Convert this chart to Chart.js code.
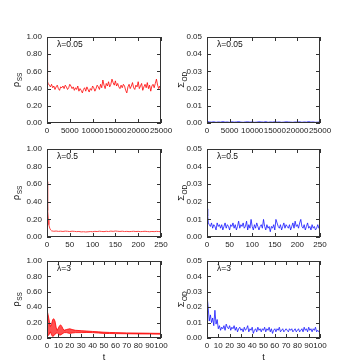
<!DOCTYPE html>
<html><head><meta charset="utf-8">
<script src="https://cdn.jsdelivr.net/npm/chart.js@4.4.1/dist/chart.umd.min.js"></script>
<style>
html,body{margin:0;padding:0;background:#fff;}
#wrap{position:relative;width:340px;height:364px;overflow:hidden;background:#fff;}
#wrap canvas{position:absolute;left:0;top:0;}
</style></head><body><div id="wrap">
<canvas id="c1" width="340" height="364"></canvas>
<canvas id="c2" width="340" height="364"></canvas>
<canvas id="c3" width="340" height="364"></canvas>
<canvas id="c4" width="340" height="364"></canvas>
<canvas id="c5" width="340" height="364"></canvas>
<canvas id="c6" width="340" height="364"></canvas>
</div>
<script>
// ---------- DATA ----------
// Panel 1: lambda=0.05, rho_SS
const t1Early = [0, 50, 100, 200];
const rho1Early = [0.85, 0.62, 0.52, 0.48];
const t1Step = 250; // samples from 250 to 25000
const rho1 = [
0.46,0.44,0.42,0.45,0.41,0.43,0.39,0.42,0.44,0.40,
0.38,0.42,0.41,0.43,0.40,0.44,0.42,0.39,0.41,0.45,
0.43,0.40,0.42,0.38,0.41,0.39,0.43,0.37,0.40,0.38,
0.35,0.39,0.41,0.37,0.42,0.39,0.36,0.40,0.38,0.43,
0.41,0.37,0.40,0.44,0.42,0.39,0.45,0.41,0.50,0.44,
0.40,0.46,0.43,0.48,0.42,0.45,0.51,0.47,0.44,0.49,
0.43,0.46,0.42,0.40,0.44,0.41,0.45,0.43,0.38,0.35,
0.42,0.45,0.40,0.43,0.47,0.41,0.39,0.44,0.42,0.48,
0.40,0.43,0.46,0.38,0.42,0.45,0.41,0.47,0.40,0.44,
0.37,0.43,0.45,0.41,0.46,0.51,0.44,0.40,0.43,0.38];

// Panel 2: lambda=0.05, Sigma_OD (t = 0..25000 step 500)
const t2Step = 500;
const sig1 = [
0.0010,0.0006,0.0005,0.0007,0.0004,0.0006,0.0005,0.0008,0.0005,0.0006,
0.0004,0.0007,0.0005,0.0006,0.0008,0.0005,0.0004,0.0006,0.0007,0.0005,
0.0006,0.0004,0.0005,0.0007,0.0006,0.0005,0.0008,0.0004,0.0006,0.0005,
0.0007,0.0005,0.0006,0.0004,0.0005,0.0007,0.0006,0.0005,0.0004,0.0006,
0.0005,0.0007,0.0004,0.0006,0.0005,0.0008,0.0005,0.0006,0.0004,0.0005,
0.0006];

// Panel 3: lambda=0.5, rho_SS
const t3Early = [0, 1, 2, 3, 4, 6, 8, 10];
const rho2Early = [0.63, 0.45, 0.30, 0.20, 0.14, 0.10, 0.08, 0.07];
const t3Start = 15, t3Step = 5;
const rho2 = [
0.065,0.068,0.064,0.066,0.063,0.067,0.065,0.062,0.066,0.064,
0.061,0.063,0.058,0.060,0.057,0.059,0.062,0.060,0.064,0.062,
0.066,0.063,0.061,0.065,0.062,0.067,0.064,0.068,0.065,0.063,
0.066,0.062,0.064,0.061,0.063,0.065,0.062,0.064,0.061,0.063,
0.065,0.062,0.060,0.063,0.061,0.064,0.062,0.060];

// Panel 4: lambda=0.5, Sigma_OD
const t4Early = [0, 1, 2, 3];
const sig2Early = [0.016, 0.015, 0.012, 0.008];
const t4Start = 5, t4Step = 2.5;
const sig2 = [
0.007,0.006,0.008,0.005,0.007,0.006,0.004,0.008,0.006,0.007,
0.005,0.007,0.004,0.006,0.008,0.005,0.007,0.006,0.004,0.007,
0.006,0.008,0.005,0.007,0.004,0.006,0.009,0.005,0.007,0.006,
0.008,0.005,0.006,0.009,0.004,0.007,0.005,0.010,0.006,0.004,
0.007,0.005,0.008,0.006,0.004,0.006,0.007,0.005,0.010,0.006,
0.004,0.007,0.005,0.006,0.003,0.006,0.005,0.007,0.004,0.010,
0.008,0.006,0.005,0.007,0.004,0.006,0.008,0.005,0.007,0.006,
0.005,0.007,0.004,0.006,0.008,0.005,0.009,0.006,0.007,0.005,
0.008,0.010,0.006,0.005,0.007,0.004,0.006,0.008,0.005,0.006,
0.004,0.007,0.005,0.006,0.004,0.005,0.007,0.005,0.006];

// Panel 5: lambda=3, rho_SS oscillation envelope
const t5 = [0,1,2,3,4,5,6,7,8,9,10,11,12,13,14,15,17,20,22,25,30,35,40,45,50,55,60,70,80,90,100];
const rho3Upper = [0.36,0.30,0.22,0.15,0.18,0.24,0.25,0.22,0.14,0.10,0.13,0.16,0.17,0.15,0.12,0.10,0.11,0.12,0.11,0.10,0.095,0.09,0.085,0.08,0.075,0.072,0.07,0.066,0.064,0.062,0.06];
const rho3Lower = [0.02,0.03,0.05,0.08,0.04,0.02,0.03,0.05,0.06,0.07,0.05,0.04,0.04,0.05,0.06,0.07,0.07,0.06,0.065,0.07,0.07,0.072,0.07,0.065,0.06,0.058,0.057,0.055,0.053,0.052,0.05];

// Panel 6: lambda=3, Sigma_OD (t = 0..100 step 1)
const t6Step = 1;
const sig3 = [
0.028,0.020,0.011,0.015,0.010,0.013,0.008,0.018,0.009,0.012,0.006,
0.008,0.005,0.007,0.006,0.008,0.005,0.009,0.007,0.006,0.008,
0.005,0.007,0.006,0.008,0.005,0.007,0.004,0.006,0.007,0.005,
0.006,0.004,0.007,0.005,0.006,0.008,0.004,0.006,0.005,0.007,
0.003,0.005,0.006,0.004,0.007,0.005,0.006,0.004,0.006,0.005,
0.007,0.004,0.006,0.005,0.007,0.004,0.006,0.003,0.005,0.006,
0.004,0.006,0.005,0.007,0.004,0.005,0.006,0.004,0.005,0.006,
0.005,0.004,0.006,0.005,0.006,0.004,0.005,0.006,0.004,0.005,
0.006,0.004,0.005,0.006,0.004,0.007,0.005,0.006,0.004,0.007,
0.005,0.006,0.004,0.006,0.005,0.007,0.004,0.005,0.004,0.004];

// Labels
const lambdaLabels = ['λ=0.05','λ=0.5','λ=3'];
const rhoTitle = ['ρ','SS'];
const sigTitle = ['Σ','OD'];
const xTitle = 't';

// ---------- HELPERS ----------
function pts(ts, vs){ return vs.map((v,i)=>({x:ts[i], y:v})); }
function regular(start, step, vs){ return vs.map((v,i)=>({x:start+i*step, y:v})); }

const FONT = '"Liberation Sans", Arial, sans-serif';
const cols = [{L:47, R:161, yt:16}, {L:207, R:320, yt:181}];
const rows = [{T:37, B:123}, {T:149, B:237}, {T:261, B:338}];

function makePanel(id, col, row, xr, yr, datasets, lam, ttl, showT){
  const c = cols[col], r = rows[row];
  const plugin = {
    id: 'frame_'+id,
    afterDraw(chart){
      const ctx = chart.ctx, a = chart.chartArea, xs = chart.scales.x, ys = chart.scales.y;
      ctx.save();
      ctx.strokeStyle = '#333'; ctx.lineWidth = 1;
      ctx.beginPath();
      xs.ticks.forEach(t=>{
        const px = Math.round(xs.getPixelForValue(t.value)) + 0.5;
        ctx.moveTo(px, a.bottom); ctx.lineTo(px, a.bottom-4);
        ctx.moveTo(px, a.top); ctx.lineTo(px, a.top+4);
      });
      ys.ticks.forEach(t=>{
        const py = Math.round(ys.getPixelForValue(t.value)) + 0.5;
        ctx.moveTo(a.left, py); ctx.lineTo(a.left+4, py);
        ctx.moveTo(a.right, py); ctx.lineTo(a.right-4, py);
      });
      ctx.stroke();
      ctx.strokeRect(a.left+0.5, a.top+0.5, a.right-a.left-1, a.bottom-a.top-1);
      // lambda label
      ctx.fillStyle = '#111';
      ctx.font = '8.5px ' + FONT;
      ctx.textBaseline = 'middle'; ctx.textAlign = 'left';
      ctx.fillText(lam, a.left+10, a.top+8);
      // y title
      ctx.save();
      ctx.translate(c.yt, (a.top+a.bottom)/2);
      ctx.rotate(-Math.PI/2);
      ctx.textBaseline = 'alphabetic';
      const f1 = '9px ' + FONT, f2 = '6.5px ' + FONT;
      ctx.font = f1; const w1 = ctx.measureText(ttl[0]).width;
      ctx.font = f2; const w2 = ctx.measureText(ttl[1]).width;
      const s = -(w1+w2)/2;
      ctx.font = f1; ctx.fillText(ttl[0], s, 3);
      ctx.font = f2; ctx.fillText(ttl[1], s+w1+0.5, 5.5);
      ctx.restore();
      if (showT){
        ctx.font = '9px ' + FONT; ctx.textAlign = 'center'; ctx.textBaseline = 'middle';
        ctx.fillText(xTitle, (a.left+a.right)/2, 358);
      }
      ctx.restore();
    }
  };
  const tickFont = {family: FONT, size: 8};
  return new Chart(document.getElementById(id), {
    type: 'line',
    data: {datasets},
    options: {
      responsive: false, animation: false, devicePixelRatio: 1,
      layout: {padding: {left: 0, top: r.T, right: 340 - c.R, bottom: 0}},
      plugins: {legend: {display: false}, tooltip: {enabled: false}},
      elements: {point: {radius: 0}, line: {tension: 0}},
      scales: {
        x: {type: 'linear', min: xr[0], max: xr[1],
            ticks: {stepSize: xr[2], font: tickFont, color: '#222', padding: 3, maxRotation: 0, minRotation: 0, autoSkip: false,
                    callback: v => String(Math.round(v))},
            grid: {display: false, drawTicks: false}, border: {display: false},
            afterFit(s){ s.height = 364 - r.B; }},
        y: {type: 'linear', min: yr[0], max: yr[1],
            ticks: {stepSize: yr[2], font: tickFont, color: '#222', padding: 5, callback: v => Number(v).toFixed(2)},
            grid: {display: false, drawTicks: false}, border: {display: false},
            afterFit(s){ s.width = c.L; }}
      }
    },
    plugins: [plugin]
  });
}

const red = 'rgb(255,0,0)', blue = 'rgb(20,20,255)';

makePanel('c1', 0, 0, [0, 25000, 5000], [0, 1, 0.2],
  [{data: pts(t1Early, rho1Early).concat(regular(t1Step, t1Step, rho1)), borderColor: red, borderWidth: 0.8}],
  lambdaLabels[0], rhoTitle, false);

makePanel('c2', 1, 0, [0, 25000, 5000], [0, 0.05, 0.01],
  [{data: regular(0, t2Step, sig1), borderColor: blue, borderWidth: 0.8}],
  lambdaLabels[0], sigTitle, false);

makePanel('c3', 0, 1, [0, 250, 50], [0, 1, 0.2],
  [{data: pts(t3Early, rho2Early).concat(regular(t3Start, t3Step, rho2)), borderColor: 'rgb(255,70,70)', borderWidth: 1}],
  lambdaLabels[1], rhoTitle, false);

makePanel('c4', 1, 1, [0, 250, 50], [0, 0.05, 0.01],
  [{data: pts(t4Early, sig2Early).concat(regular(t4Start, t4Step, sig2)), borderColor: blue, borderWidth: 0.8}],
  lambdaLabels[1], sigTitle, false);

makePanel('c5', 0, 2, [0, 100, 10], [0, 1, 0.2],
  [{data: pts(t5, rho3Upper), borderColor: red, borderWidth: 0.8, fill: false},
   {data: pts(t5, rho3Lower), borderColor: red, borderWidth: 0.8, fill: '-1', backgroundColor: 'rgba(255,20,20,0.75)'}],
  lambdaLabels[2], rhoTitle, true);

makePanel('c6', 1, 2, [0, 100, 10], [0, 0.05, 0.01],
  [{data: regular(0, t6Step, sig3), borderColor: blue, borderWidth: 0.8}],
  lambdaLabels[2], sigTitle, true);
</script></body></html>
